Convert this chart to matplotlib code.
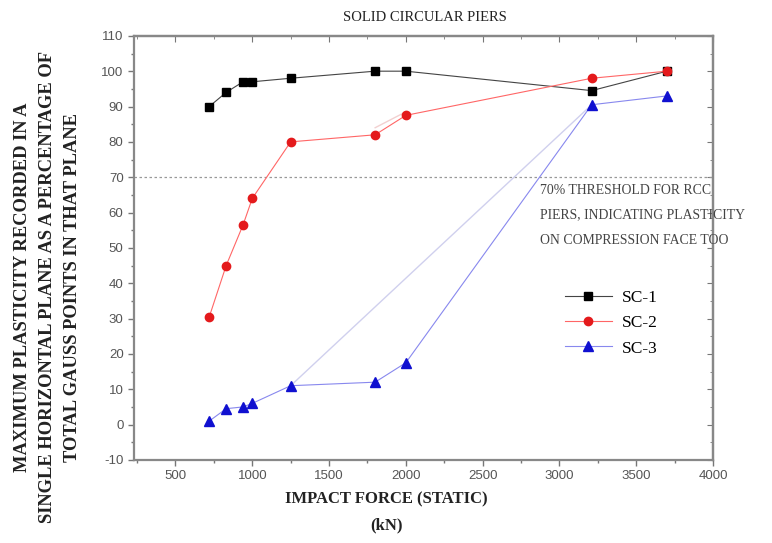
from matplotlib import pyplot as plt
from matplotlib.ticker import MultipleLocator

plt.rcParams['axes.unicode_minus'] = False

# impact force (kN) and max plasticity (%)
force = [720, 830, 940, 1000, 1250, 1800, 2000, 3210, 3700]
sc1 = [90, 94, 97, 97, 98, 100, 100, 94.5, 100]
sc2 = [30.5, 45, 56.5, 64, 80, 82, 87.5, 98, 100]
sc3 = [1, 4.5, 5, 6, 11, 12, 17.5, 90.5, 93]

# faint ghost lines visible in the original scan
ghost_force = [1250, 3210]
ghost_sc3 = [11, 90.5]
ghost2_force = [1800, 2000]
ghost2_sc2 = [84, 88.5]

serif = 'Liberation Serif'
sans = 'Liberation Sans'

fig = plt.figure(figsize=(7.72, 5.43), dpi=100)
ax = fig.add_axes([0.1736, 0.153, 0.75, 0.781])

ax.axhline(70, color='#999999', lw=0.9, ls=(0, (2, 2)), zorder=1)

ax.plot(ghost_force, ghost_sc3, color='#d0d0ee', lw=1.0, zorder=1)
ax.plot(ghost2_force, ghost2_sc2, color='#f2d0d0', lw=1.0, zorder=1)

ax.plot(force, sc1, color='#444444', lw=0.8, marker='s', ms=5.8,
        mfc='black', mec='black', label='SC-1', zorder=3)
ax.plot(force, sc2, color='#ff6666', lw=0.8, marker='o', ms=6,
        mfc='#e41a1c', mec='#e41a1c', label='SC-2', zorder=3)
ax.plot(force, sc3, color='#8888ee', lw=0.8, marker='^', ms=6.5,
        mfc='#1010d0', mec='#1010d0', label='SC-3', zorder=3)

ax.set_xlim(230, 4000)
ax.set_ylim(-10, 110)
ax.xaxis.set_major_locator(MultipleLocator(500))
ax.xaxis.set_minor_locator(MultipleLocator(250))
ax.yaxis.set_major_locator(MultipleLocator(10))
ax.yaxis.set_minor_locator(MultipleLocator(5))
ax.set_xticks(range(500, 4001, 500))

ax.tick_params(which='both', direction='out', colors='#777777', width=1,
               labelsize=9.5, labelcolor='#555555', top=False, right=False)
ax.tick_params(which='major', length=4)
ax.tick_params(which='minor', length=2)
for lab in ax.get_xticklabels() + ax.get_yticklabels():
    lab.set_fontfamily(sans)

# inward ticks on top and right like Origin
ax2 = ax.secondary_xaxis('top')
ax2.xaxis.set_major_locator(MultipleLocator(500))
ax2.xaxis.set_minor_locator(MultipleLocator(250))
ax2.tick_params(which='both', direction='in', colors='#777777', labeltop=False)
ax2.tick_params(which='major', length=4)
ax2.tick_params(which='minor', length=2)
ax3 = ax.secondary_yaxis('right')
ax3.yaxis.set_major_locator(MultipleLocator(10))
ax3.yaxis.set_minor_locator(MultipleLocator(5))
ax3.tick_params(which='both', direction='in', colors='#777777', labelright=False)
ax3.tick_params(which='major', length=4)
ax3.tick_params(which='minor', length=2)

for s in ax.spines.values():
    s.set_color('#888888')
    s.set_linewidth(1.6)
for a in (ax2, ax3):
    for s in a.spines.values():
        s.set_color('#888888')
        s.set_linewidth(1.6)

fig.text(0.551, 0.968, 'SOLID CIRCULAR PIERS', family=serif, fontsize=10.5,
         ha='center', va='center', color='#222222')

fig.text(0.501, 0.08, 'IMPACT FORCE (STATIC)', family=serif, fontsize=12,
         fontweight='bold', ha='center', va='center', color='#222222')
fig.text(0.501, 0.033, '(kN)', family=serif, fontsize=12,
         fontweight='bold', ha='center', va='center', color='#222222')

fig.text(0.0615, 0.471, 'MAXIMUM PLASTICITY RECORDED IN A\n'
         'SINGLE HORIZONTAL PLANE AS A PERCENTAGE OF\n'
         'TOTAL GAUSS POINTS IN THAT PLANE',
         family=serif, fontsize=13.3, fontweight='bold', rotation=90,
         ha='center', va='center', multialignment='center',
         linespacing=1.63, color='#222222')

ax.text(2873, 59.3, '70% THRESHOLD FOR RCC\nPIERS, INDICATING PLASTICITY\n'
        'ON COMPRESSION FACE TOO', family=serif, fontsize=9.9,
        ha='left', va='center', linespacing=2.2, color='#444444',
        clip_on=False, zorder=4)

leg = ax.legend(loc='upper left', bbox_to_anchor=(565 / 772, 1 - 290 / 543),
                bbox_transform=fig.transFigure, frameon=False,
                prop={'family': serif, 'size': 12.5}, handlelength=2.7,
                handletextpad=0.55, labelspacing=0.52, borderaxespad=0,
                borderpad=0)

fig.savefig('out.png', dpi=100)
